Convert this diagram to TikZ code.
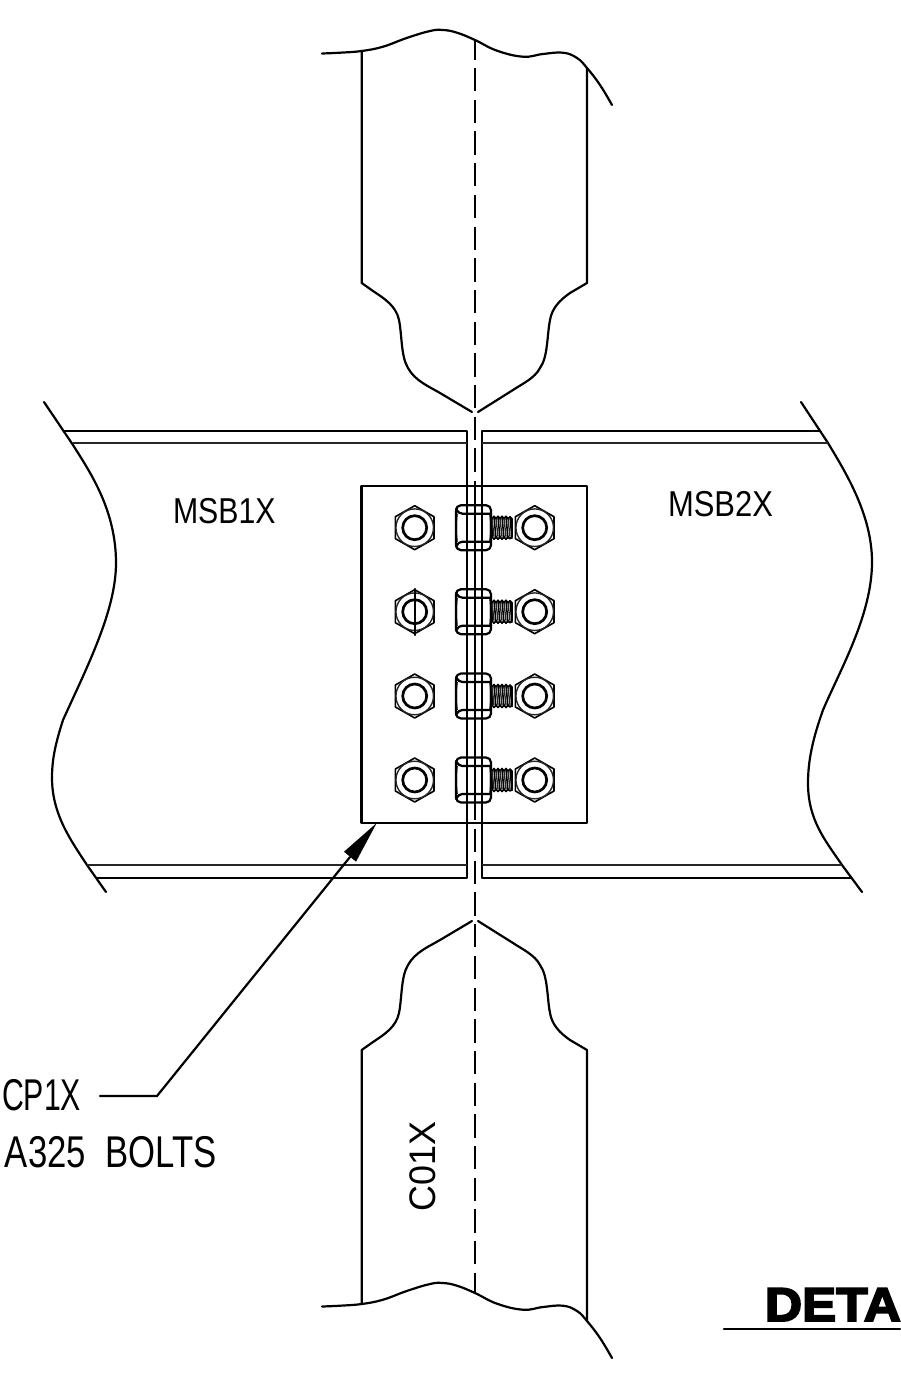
\documentclass[tikz,border=0pt]{standalone}
\usepackage{graphicx}
\usepackage{fontspec}
\setmainfont{Liberation Sans}
\newfontfamily\detafont[FakeBold=4,FakeStretch=1.08]{Liberation Sans Bold}
\newcommand{\thinlabel}[3]{\scalebox{#2}[1]{\fontsize{#1}{#1}\selectfont #3}}
\tikzset{
  heavy/.style={line width=2.2pt,line cap=round,line join=round},
  light/.style={line width=1.4pt,black!85},
  thin line/.style={line width=1.6pt},
  txt/.style={inner sep=0pt,outer sep=0pt,anchor=base west},
  centre dash/.style={line width=1.9pt,dash pattern=on 23.3pt off 8.4pt},
}
\begin{document}
\begin{tikzpicture}[x=1pt,y=-1pt]
\useasboundingbox (0,0) rectangle (900,1383);
\fill[white] (0,0) rectangle (900,1383);

% column break lines
\newcommand{\breakline}{plot[smooth,tension=.7] coordinates {(322,53.5) (340,52.7) (361.7,51) (383,46.7) (406.7,38) (430,31) (443,30) (457,32.7) (475,40) (497,50.7) (523,56.7) (543,54) (563,52.7) (577,58) (587,68) (600,85) (612,105)}}
\draw[heavy] \breakline;
\draw[heavy,yshift=-1253pt] \breakline;

% upper column
\draw[heavy] (361.7,51) -- (361.7,283) -- (373,291)
  .. controls (385,299) and (396,306) .. (399,320)
  .. controls (402,335) and (401,357) .. (408,368)
  .. controls (415,381) and (430,387) .. (440,393) -- (472,412);
\draw[heavy] (587,68) -- (587,283) -- (570,293)
  .. controls (560,300) and (552,308) .. (550,320)
  .. controls (547,335) and (548,357) .. (540,368)
  .. controls (535,378) and (522,384) .. (513,390) -- (478,412);

% lower column
\draw[heavy] (361.7,1304) -- (361.7,1050) -- (373,1042)
  .. controls (385,1034) and (396,1027) .. (399,1013)
  .. controls (402,998) and (401,976) .. (408,965)
  .. controls (415,952) and (430,946) .. (440,940) -- (472,921);
\draw[heavy] (587,1321) -- (587,1050) -- (570,1040)
  .. controls (560,1033) and (552,1025) .. (550,1013)
  .. controls (547,998) and (548,976) .. (540,965)
  .. controls (535,955) and (522,949) .. (513,943) -- (478,921);

% centre line
\draw[centre dash,dash phase=3.7pt] (475,40) -- (475,476);
\draw[line width=1.9pt] (475,481) -- (475,820);
\draw[centre dash] (475,829) -- (475,1292);

% beam break lines
\draw[heavy] (44,402) -- (73,445) .. controls (90,472) and (116,510) .. (116,563)
  .. controls (116,610) and (88,665) .. (63,720)
  .. controls (55,745) and (52,760) .. (52,778)
  .. controls (52,815) and (72,842) .. (87,865) -- (106,892);
\draw[heavy] (801,402) -- (828,443) .. controls (846,473) and (872,515) .. (872,562)
  .. controls (872,615) and (840,670) .. (823,710)
  .. controls (813,738) and (808,760) .. (808,783)
  .. controls (808,820) and (825,840) .. (842,865) -- (862,892);

% flanges and web
\draw[heavy] (64,431) -- (467,431) -- (467,878) -- (97,878);
\draw[heavy] (819,431) -- (482,431) -- (482,878) -- (851,878);
\draw[light] (73,443) -- (467,443);
\draw[light] (87,865) -- (467,865);
\draw[light] (828,443) -- (482,443);
\draw[light] (842,865) -- (482,865);

% plate
\draw[heavy] (361.5,486) rectangle (587,823);

% bolts
\foreach \yy in {527.7,611.7,696,780}{
  \foreach \xx in {414.7,534.7}{
    \begin{scope}[shift={(\xx,\yy)}]
      \draw[thin line,line join=round] (0,-22) -- (19.3,-11) -- (19.3,11) -- (0,22) -- (-19.3,11) -- (-19.3,-11) -- cycle;
      \draw[light] (0,0) circle (18.8);
      \draw[line width=2.7pt] (0,0) circle (12);
    \end{scope}
  }
  \begin{scope}[shift={(473.5,\yy)}]
    \draw[heavy,rounded corners=5pt] (-17.5,-22.5) rectangle (17.5,22.5);
    \draw[heavy,rounded corners=4pt] (-17.5,-19) -- (-15,-14) -- (17.5,-14);
    \draw[heavy,rounded corners=4pt] (-17.5,19) -- (-15,14) -- (17.5,14);
    \draw[thin line] (-16.5,-14) .. controls (-17.5,-5) and (-17.5,5) .. (-16.5,14);
    \draw[thin line] (16.5,-14) .. controls (17.5,-5) and (17.5,5) .. (16.5,14);
  \end{scope}
  \begin{scope}[shift={(491,\yy)}]
    \draw[thin line,line join=round] (1,-9) -- (3,-11.5) -- (5,-9) -- (7,-11.5) -- (9,-9) -- (11,-11.5) -- (13,-9) -- (15,-11.5) -- (17,-9) -- (19,-11) -- (21,-9) -- (21,9) -- (19,11) -- (17,9) -- (15,11.5) -- (13,9) -- (11,11.5) -- (9,9) -- (7,11.5) -- (5,9) -- (3,11.5) -- (1,9) -- cycle;
    \foreach \k in {0,1,2,3,4}{
      \draw[thin line] ({3+4*\k},-11) -- ({5+4*\k},11);
      \draw[light] ({1+4*\k},-9) -- ({3+4*\k},9);
    }
  \end{scope}
}
\draw[heavy] (414.7,589) -- (414.7,635);

% leader
\coordinate (ldrstart) at (100,1096);
\coordinate (ldrknee) at (157,1096);
\coordinate (ldrbase) at (350,857);
\coordinate (ldrtip) at (376.7,823);
\draw[heavy] (ldrstart) -- (ldrknee) -- (ldrbase);
\fill[black] (ldrtip) -- (344,851.7) -- (356,861.7) -- cycle;

% labels
\node[txt] (msba) at (173,523) {\thinlabel{36pt}{.84}{MSB1X}};
\node[txt] (msbb) at (668,516) {\thinlabel{36pt}{.86}{MSB2X}};
\node[txt] (cpx) at (2,1110) {\thinlabel{44.5pt}{.68}{CP1X}};
\node[txt] (bolts) at (5,1167) {\thinlabel{44.5pt}{.78}{A325\ \ BOLTS}};
\node[txt,rotate=90] (col) at (435,1211) {\thinlabel{37pt}{.97}{C01X}};
\node[txt] (deta) at (765,1321) {\fontsize{47.5pt}{47.5pt}\selectfont\detafont DETA};
\coordinate (titleA) at (724,1329);
\coordinate (titleB) at (900,1329);
\draw[heavy] (titleA) -- (titleB);
\end{tikzpicture}
\end{document}
